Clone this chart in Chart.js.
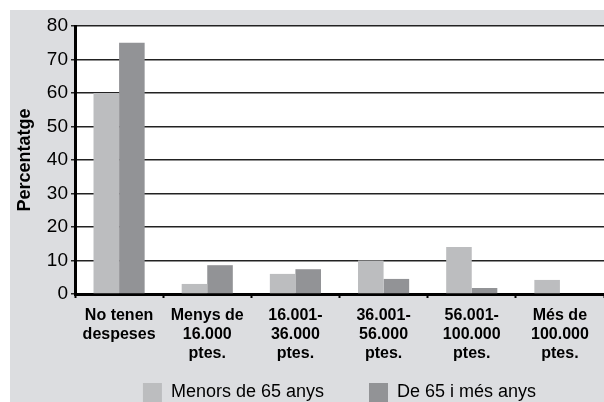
<!DOCTYPE html>
<html>
<head>
<meta charset="utf-8">
<script src="https://cdn.jsdelivr.net/npm/chart.js@4/dist/chart.umd.min.js"></script>
<style>
    html, body { margin: 0; padding: 0; background: #ffffff; overflow: hidden; }
    #chart { position: absolute; left: 10px; top: 10px; background: #dcdde0; }
</style>
</head>
<body>
<canvas id="chart" width="594" height="402"></canvas>
<script>
// categories and values
const categories = [
    ['No tenen', 'despeses'],
    ['Menys de', '16.000', 'ptes.'],
    ['16.001-', '36.000', 'ptes.'],
    ['36.001-', '56.000', 'ptes.'],
    ['56.001-', '100.000', 'ptes.'],
    ['Més de', '100.000', 'ptes.']
];
const seriesNames = ['Menors de 65 anys', 'De 65 i més anys'];
const menors65 = [60, 3, 6, 10, 14, 4.2];
const majors65 = [75, 8.6, 7.4, 4.5, 1.8, 0];
const yTitle = 'Percentatge';

const FONT = "'Liberation Sans', Arial, sans-serif";

// white plot area over the grey panel
const plotBackground = {
    id: 'plotBackground',
    beforeDraw(chart) {
        const a = chart.chartArea;
        const ctx = chart.ctx;
        ctx.save();
        ctx.fillStyle = '#ffffff';
        ctx.fillRect(a.left, a.top, a.right - a.left, a.bottom - a.top);
        ctx.restore();
    }
};

const ctx = document.getElementById('chart').getContext('2d');
const chart = new Chart(ctx, {
    type: 'bar',
    data: {
        labels: categories,
        datasets: [{
            label: seriesNames[0],
            data: menors65,
            backgroundColor: '#bcbdbf',
            borderWidth: 0
        }, {
            label: seriesNames[1],
            data: majors65,
            backgroundColor: '#929396',
            borderWidth: 0
        }]
    },
    options: {
        responsive: false,
        animation: false,
        layout: { padding: { top: 16, left: 0, right: 0, bottom: 0 } },
        datasets: {
            bar: { categoryPercentage: 0.58, barPercentage: 1.0 }
        },
        plugins: {
            tooltip: { enabled: false },
            legend: {
                position: 'bottom',
                fullSize: false,
                labels: {
                    color: '#000000',
                    font: { family: FONT, size: 18 },
                    boxWidth: 19,
                    boxHeight: 19,
                    padding: 20,
                    generateLabels: function (chart) {
                        const items = Chart.defaults.plugins.legend.labels.generateLabels(chart);
                        // a bit more room between the two entries
                        items[0].text = items[0].text + '     ';
                        items.forEach(function (it) { it.lineWidth = 0; });
                        return items;
                    }
                }
            }
        },
        scales: {
            x: {
                grid: {
                    display: true,
                    drawOnChartArea: false,
                    drawTicks: true,
                    tickLength: 4,
                    tickWidth: 2,
                    tickColor: '#000000',
                    offset: true
                },
                border: { display: true, color: '#000000', width: 3 },
                ticks: {
                    color: '#000000',
                    font: { family: FONT, size: 16, weight: 'bold', lineHeight: 1.18 },
                    padding: 8,
                    maxRotation: 0,
                    autoSkip: false
                },
                afterFit: function (scale) { scale.height = 69; }
            },
            y: {
                min: 0,
                max: 80,
                ticks: {
                    stepSize: 10,
                    color: '#000000',
                    font: { family: FONT, size: 19 },
                    padding: 3
                },
                grid: {
                    color: '#222222',
                    lineWidth: 1.5,
                    tickLength: 4,
                    tickColor: '#222222'
                },
                border: { display: true, color: '#000000', width: 3 },
                title: {
                    display: true,
                    text: yTitle,
                    color: '#000000',
                    font: { family: FONT, size: 18, weight: 'bold' },
                    padding: { top: 4, bottom: 0 }
                },
                afterFit: function (scale) { scale.width = 65; }
            }
        }
    },
    plugins: [plotBackground]
});
</script>
</body>
</html>
